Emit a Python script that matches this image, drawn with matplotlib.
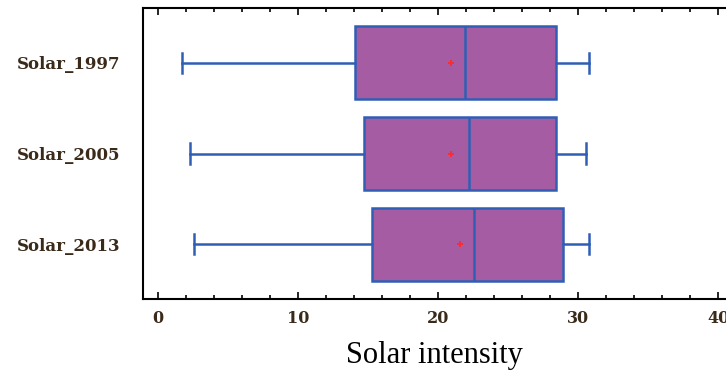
import matplotlib
matplotlib.use("Agg")
import matplotlib.pyplot as plt
from matplotlib.ticker import MultipleLocator

labels = ["Solar_1997", "Solar_2005", "Solar_2013"]
whislo = [1.7, 2.3, 2.6]
q1 = [14.1, 14.7, 15.3]
med = [21.9, 22.2, 22.6]
q3 = [28.4, 28.4, 28.9]
whishi = [30.8, 30.6, 30.8]
means = [20.9, 20.9, 21.6]
xticks = [0, 10, 20, 30, 40]

stats = []
for i, lab in enumerate(labels):
    stats.append(dict(label=lab, whislo=whislo[i], q1=q1[i], med=med[i],
                      q3=q3[i], whishi=whishi[i], mean=means[i], fliers=[]))

fig = plt.figure(figsize=(7.26, 3.77), dpi=100)
ax = fig.add_axes([143/726, 1-299/377, 1-143/726, (299-8)/377])

edge = "#2E5FB5"
fill = "#A65CA2"
ax.bxp(stats, positions=[1, 2, 3], widths=0.8, vert=False, patch_artist=True,
       showmeans=True, showfliers=False, capwidths=0.22,
       boxprops=dict(facecolor=fill, edgecolor=edge, linewidth=1.8),
       medianprops=dict(color=edge, linewidth=1.8),
       whiskerprops=dict(color=edge, linewidth=1.8),
       capprops=dict(color=edge, linewidth=1.8),
       meanprops=dict(marker="+", markeredgecolor="#FF2A2A", markersize=5, markeredgewidth=1.3))

ax.set_ylim(3.6, 0.4)
ax.set_xlim(-1.07, 40.57)
ax.set_xticks(xticks)
ax.xaxis.set_minor_locator(MultipleLocator(2))
ax.tick_params(axis="x", which="major", direction="in", length=5, width=1.2, top=True, labeltop=False)
ax.tick_params(axis="x", which="minor", direction="in", length=3, width=1.2, top=True)
ax.tick_params(axis="y", which="both", length=0, pad=16)
ax.spines["right"].set_visible(False)
for s in ["left", "top", "bottom"]:
    ax.spines[s].set_linewidth(1.5)

for t in ax.get_xticklabels():
    t.set_fontfamily("DejaVu Serif")
    t.set_fontsize(11.5)
    t.set_fontweight("bold")
    t.set_color("#3a2a1a")
ax.set_yticks([1, 2, 3])
ax.set_yticklabels(labels, fontfamily="DejaVu Serif", fontsize=12, fontweight="bold", color="#3a2a1a")
ax.tick_params(axis="x", pad=8)

ax.set_xlabel("Solar intensity", fontfamily="Liberation Serif", fontsize=22, labelpad=10)

fig.savefig("out.png", dpi=100)
